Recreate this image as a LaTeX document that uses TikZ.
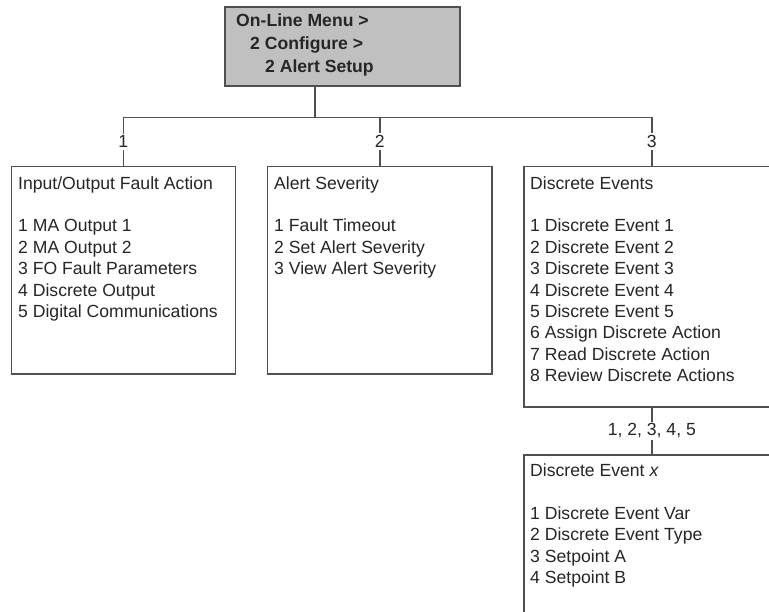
\documentclass[tikz,border=0pt]{standalone}
\usepackage{fontspec}
\setmainfont{Liberation Sans}
\usepackage{xcolor}
\usetikzlibrary{calc}

\definecolor{wireGray}{HTML}{505050}
\definecolor{textGray}{HTML}{262626}
\definecolor{menuFill}{HTML}{C0C0C0}

\tikzset{
    wire/.style={draw=wireGray, line width=1.6pt},
    menuBox/.style={wire, rectangle, anchor=north west, inner sep=0pt, fill=white},
    boxText/.style={anchor=north west, inner sep=0pt, align=left, text=textGray,
        font=\fontsize{17.6}{21.4}\selectfont},
    tag/.style={fill=white, inner sep=2pt, text=textGray,
        font=\fontsize{17.6}{21.4}\selectfont}
}

\begin{document}
\begin{tikzpicture}[x=1pt, y=-1pt]
    \path[use as bounding box, clip] (0,0) rectangle (769,612);

    % root of the menu tree
    \node[menuBox, fill=menuFill, minimum width=235, minimum height=79] (menu) at (224,6) {};
    \node[boxText, font=\bfseries\fontsize{17.6}{23}\selectfont] (menuText) at (236,10.3)
        {\strut On-Line Menu >\\ \hspace*{14pt}2 Configure >\\ \hspace*{29pt}2 Alert Setup};

    % second level
    \node[menuBox, minimum width=224, minimum height=207.6] (io) at (10.5,165.7) {};
    \node[menuBox, minimum width=224.6, minimum height=207.6] (sev) at (266.7,165.7) {};
    \node[menuBox, minimum width=256, minimum height=240.3] (evt) at (523,165.7) {};

    \node[boxText] (ioText) at (18,174)
        {\strut Input/Output Fault Action\\[21.4pt]
         1 MA Output 1\\ 2 MA Output 2\\ 3 FO Fault Parameters\\
         4 Discrete Output\\ 5 Digital Communications};
    \node[boxText] (sevText) at (274,174)
        {\strut Alert Severity\\[21.4pt]
         1 Fault Timeout\\ 2 Set Alert Severity\\ 3 View Alert Severity};
    \node[boxText] (evtText) at (530,174)
        {\strut Discrete Events\\[21.4pt]
         1 Discrete Event 1\\ 2 Discrete Event 2\\ 3 Discrete Event 3\\
         4 Discrete Event 4\\ 5 Discrete Event 5\\ 6 Assign Discrete Action\\
         7 Read Discrete Action\\ 8 Review Discrete Actions};

    % third level
    \node[menuBox, minimum width=256, minimum height=200] (one) at (523,454.3) {};
    \node[boxText] (oneText) at (530,461.5)
        {\strut Discrete Event \textit{x}\\[21.4pt]
         1 Discrete Event Var\\ 2 Discrete Event Type\\ 3 Setpoint A\\ 4 Setpoint B};

    % connectors
    \coordinate (hub) at (315,117.5);
    \draw[wire] (hub |- menu.south) -- (hub);
    \draw[wire] (io.north) -- (io.north |- hub) -- (evt.north |- hub) -- (evt.north);
    \draw[wire] (sev.north) -- (sev.north |- hub);
    \draw[wire] (evt.south) -- (one.north);

    \node[tag] (tagIo) at ($(io.north)!0.5!(io.north |- hub)$) {1};
    \node[tag] (tagSev) at ($(sev.north)!0.5!(sev.north |- hub)$) {2};
    \node[tag] (tagEvt) at ($(evt.north)!0.5!(evt.north |- hub)$) {3};
    \node[tag] (tagOne) at ($(evt.south)!0.5!(one.north)$) {1, 2, 3, 4, 5};
\end{tikzpicture}
\end{document}
